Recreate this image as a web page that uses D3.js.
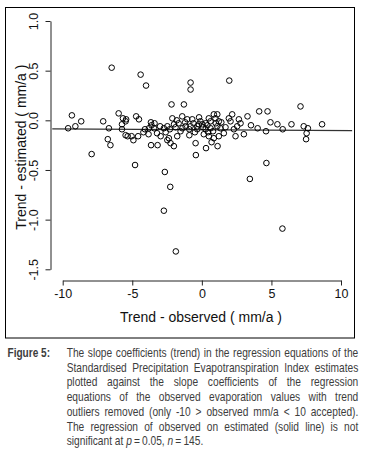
<!DOCTYPE html>
<html><head><meta charset="utf-8">
<script src="https://cdn.jsdelivr.net/npm/d3@7"></script>
<style>body{margin:0;background:#fff}svg{display:block}</style>
</head><body>
<script>
// observed trend (mm/a)
const obsTrend = [-6.48,-4.40,-4.01,-0.81,-0.81,1.97,-7.92,-4.80,-0.43,-2.66,4.64,-2.27,3.45,-2.73,5.79,-1.87,
-9.34,-8.67,-9.61,-9.09,-7.09,-6.68,-6.76,-6.57,-5.98,-5.67,-5.44,-5.48,-5.74,-5.74,-5.48,-5.33,
-5.05,-4.92,-4.72,-4.52,-4.58,-4.09,-3.66,-3.62,-3.80,-3.43,-3.83,-3.65,-3.18,-3.22,-2.96,-2.73,-2.48,-2.18,-2.12,
-1.29,-1.41,-1.05,-0.69,-1.17,-0.81,-2.37,-2.25,-2.01,-1.77,-1.53,-0.45,-2.48,-1.67,-1.89,
-0.33,-0.22,-0.33,0.03,0.27,0.62,0.86,1.11,0.98,1.22,1.11,1.34,1.58,1.22,0.86,0.50,0.14,0.62,0.27,0.30,1.13,
1.94,2.18,2.06,2.66,2.54,2.42,3.02,2.78,3.28,3.53,4.01,4.12,4.72,4.61,4.93,
5.43,5.81,6.44,7.09,7.32,7.62,7.53,7.49,8.64,
-1.2,-0.9,-0.6,-0.1,0.1,0.4,0.45,0.8,1.0,1.4,1.7,-0.5,-1.4,-2.0,-2.6,-3.0,-3.4,-4.2,-0.2,0.5,2.3,-1.8,-2.3,0.7,-0.9];
// estimated trend (mm/a)
const estTrend = [0.53,0.46,0.35,0.38,0.31,0.40,-0.34,-0.45,-0.35,-0.52,-0.43,-0.67,-0.59,-0.91,-1.09,-1.32,
0.05,-0.01,-0.08,-0.06,-0.01,-0.08,-0.19,-0.25,0.07,0.02,0.01,-0.01,-0.04,-0.09,-0.15,-0.16,
-0.16,-0.20,0.04,0.01,-0.16,-0.09,-0.02,-0.05,-0.08,-0.08,-0.14,-0.25,-0.25,-0.13,-0.16,-0.08,-0.06,0.16,0.02,
0.16,0.04,0.01,0.01,-0.06,-0.06,-0.18,-0.23,-0.26,-0.16,-0.11,-0.23,-0.20,-0.03,-0.07,
-0.06,-0.04,-0.09,-0.04,-0.03,-0.01,0.06,0.06,0.02,-0.01,-0.06,-0.08,-0.13,-0.16,-0.18,-0.16,-0.14,-0.08,-0.09,-0.28,-0.26,
0.02,0.06,-0.01,0.01,-0.06,-0.16,-0.14,-0.03,0.04,-0.05,-0.08,0.09,0.09,-0.11,-0.02,
-0.04,-0.09,-0.04,0.14,-0.06,-0.08,-0.13,-0.19,-0.04,
-0.02,-0.09,-0.03,-0.01,-0.07,-0.05,-0.12,-0.11,-0.03,-0.02,-0.07,-0.12,-0.08,-0.04,-0.12,-0.06,-0.03,-0.12,0.03,0.02,-0.09,0.00,-0.09,-0.22,-0.15];
// regression line: intercept, slope; and its drawn x extent
const regCoef = [-0.095, -0.0008];
const regRange = [-10.75, 10.8];
const xTicks = [-10,-5,0,5,10];
const yTicks = [-1.5,-1.0,-0.5,0.0,0.5,1.0];
const xTitle = "Trend - observed ( mm/a )";
const yTitle = "Trend - estimated ( mm/a )";
const figLabel = "Figure 5:";
const captionLines = [
 "The slope coefficients (trend) in the regression equations of the",
 "Standardised Precipitation Evapotranspiration Index estimates",
 "plotted against the slope coefficients of the regression",
 "equations of the observed evaporation values with trend",
 "outliers removed (only -10 > observed mm/a < 10 accepted).",
 "The regression of observed on estimated (solid line) is not"
];

const W = 366, H = 460;
const svg = d3.select("body").append("svg").attr("width", W).attr("height", H);

svg.append("rect").attr("x",5.5).attr("y",7.5).attr("width",349).attr("height",330.5)
  .attr("fill","none").attr("stroke","#000").attr("stroke-width",1);

const x = d3.scaleLinear().domain([-10,10]).range([62.7,341]);
const y = d3.scaleLinear().domain([-1.5,1]).range([269.3,21]);
const AF = "Liberation Sans, Arial, sans-serif";

const xa = svg.append("g").attr("transform","translate(0,280.5)")
  .call(d3.axisBottom(x).tickValues(xTicks).tickFormat(d=>String(d)).tickSize(5).tickSizeOuter(0));
const ya = svg.append("g").attr("transform","translate(50.5,0)")
  .call(d3.axisLeft(y).tickValues(yTicks).tickFormat(d=>d.toFixed(1)).tickSize(5).tickSizeOuter(0));
[xa,ya].forEach(a=>{
  a.selectAll("path,line").attr("stroke","#222").attr("stroke-width",1);
  a.selectAll("text").attr("font-family",AF).attr("font-size",12.5).attr("fill","#111");
});
xa.selectAll("text").attr("y",9).attr("dy","0.71em");
ya.selectAll(".tick text").attr("x",0).attr("dy",0)
  .attr("transform","translate(-12.5,0) rotate(-90)").attr("text-anchor","middle");

svg.append("text").attr("x",201).attr("y",322).attr("text-anchor","middle")
  .attr("font-family",AF).attr("font-size",14).attr("fill","#111").text(xTitle);
svg.append("text").attr("transform",`translate(25.5,${y(-0.27)}) rotate(-90)`).attr("text-anchor","middle")
  .attr("font-family",AF).attr("font-size",14).attr("fill","#111").text(yTitle);

// regression line
svg.append("line")
  .attr("x1",x(regRange[0])).attr("x2",x(regRange[1]))
  .attr("y1",y(regCoef[0]+regCoef[1]*regRange[0])).attr("y2",y(regCoef[0]+regCoef[1]*regRange[1]))
  .attr("stroke","#333").attr("stroke-width",1.1);

// points
svg.append("g").selectAll("circle").data(d3.range(obsTrend.length)).join("circle")
  .attr("cx",i=>x(obsTrend[i])).attr("cy",i=>y(estTrend[i])).attr("r",2.8)
  .attr("fill","none").attr("stroke","#000").attr("stroke-width",1);

// caption (condensed look: Liberation Sans squeezed horizontally)
const CF = "Liberation Sans, Arial, sans-serif";
const capCol = "#3d3d3d";
const SX = 0.85, FS = 12;
svg.append("g").attr("transform","translate(7.5,357) scale(0.84,1)")
  .append("text").attr("font-family",CF).attr("font-weight","bold")
  .attr("font-size",FS).attr("fill",capCol).text(figLabel);
const left = 66.7, right = 358.3, lh = 14.7;
const avail = (right-left)/SX;
captionLines.forEach((line,li)=>{
  const words = line.split(" ");
  const g = svg.append("g").attr("transform",`translate(${left},${357+li*lh}) scale(${SX},1)`);
  const ts = words.map(w=>g.append("text").attr("font-family",CF)
    .attr("font-size",FS).attr("fill",capCol).text(w));
  const widths = ts.map(t=>t.node().getComputedTextLength());
  const gap = (avail-d3.sum(widths))/(words.length-1);
  let cx = 0;
  ts.forEach((t,i)=>{t.attr("x",cx); cx += widths[i]+gap;});
});
const last = svg.append("g").attr("transform",`translate(${left},${357+6*lh}) scale(${SX},1)`)
  .append("text").attr("font-family",CF).attr("font-size",FS).attr("fill",capCol);
last.append("tspan").text("significant at ");
last.append("tspan").attr("font-style","italic").text("p");
last.append("tspan").attr("dx",2.5).text("=");
last.append("tspan").attr("dx",2.5).text("0.05, ");
last.append("tspan").attr("font-style","italic").text("n");
last.append("tspan").attr("dx",2.5).text("=");
last.append("tspan").attr("dx",2.5).text("145.");
</script>
</body></html>
